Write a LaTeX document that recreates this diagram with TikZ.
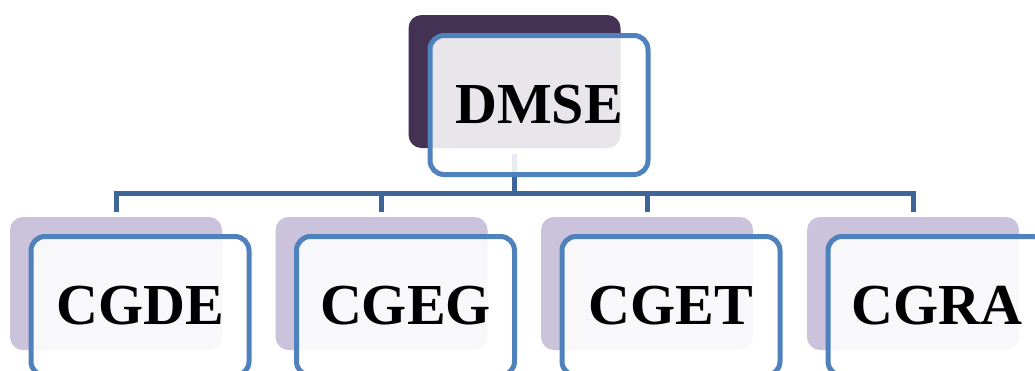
\documentclass[tikz,border=0pt]{standalone}
\usepackage{fontspec}
\setmainfont{Liberation Serif}
\usepackage{xcolor}
\usepackage{tikz}
\definecolor{darkplum}{HTML}{433253}
\definecolor{lightplum}{HTML}{CBC2DB}
\definecolor{boxblue}{HTML}{4F81BD}
\definecolor{linkblue}{HTML}{3E6598}

\begin{document}
\begin{tikzpicture}[x=1pt, y=-1pt,
        back/.style = {rectangle, rounded corners=13pt, minimum width=212pt, minimum height=133pt, inner sep=0pt},
        front/.style = {rectangle, draw=boxblue, line width=5pt, fill=white, fill opacity=0.88, text opacity=1, rounded corners=14pt, minimum width=218pt, minimum height=139pt, inner sep=0pt, font=\fontsize{58}{60}\selectfont\bfseries},
        link/.style = {draw=linkblue, line width=5pt}]
        \clip (0, 0) rectangle (1035, 370);
        \node (0s) at (514.5, 81.5) [back, fill = darkplum] {};
        \node (1s) at (116, 283.5) [back, fill = lightplum] {};
        \node (2s) at (381.5, 283.5) [back, fill = lightplum] {};
        \node (3s) at (647, 283.5) [back, fill = lightplum] {};
        \node (4s) at (913, 283.5) [back, fill = lightplum] {};
        \coordinate (bus) at (514.5, 193.5);
        \draw [link, shorten <=6pt] (0s.south) -- (bus);
        \foreach \n in {1, 2, 3, 4}
            \draw [link, shorten >=5pt] (bus) -| (\n s.north);
        \node (0) at (539, 105) [front] {DMSE};
        \node (1) at (140, 306) [front] {CGDE};
        \node (2) at (405.5, 306) [front] {CGEG};
        \node (3) at (671, 306) [front] {CGET};
        \node (4) at (937, 306) [front] {CGRA};
    \end{tikzpicture}
\end{document}
